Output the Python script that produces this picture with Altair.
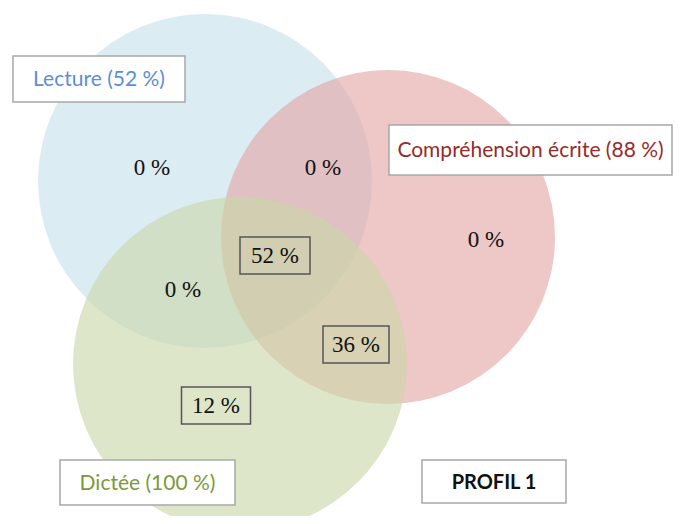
import altair as alt
import pandas as pd

# Venn sets
set_names = ["Lecture", "Compréhension écrite", "Dictée"]
set_pct = [52, 88, 100]
set_colors = ["#c5e1eb", "#e4a5a5", "#cad7a8"]
# circle centres (in page pixel coordinates of the layout)
circle_cx = [205, 388, 240]
circle_cy = [181, 237, 364]
circle_r = 167

# region values
region_labels = ["0 %", "0 %", "0 %", "52 %", "0 %", "36 %", "12 %"]
region_boxed = [False, False, False, True, False, True, True]
region_x = [152, 323, 486, 275, 183, 356, 216]
region_y = [168, 168, 240, 256, 290, 345, 406]

# set label boxes
label_texts = [f"{n} ({p} %)" for n, p in zip(set_names, set_pct)] + ["PROFIL 1"]
label_colors = ["#5b8fd8", "#962b2b", "#7b9a3a", "#111111"]
label_weights = ["normal", "normal", "normal", "bold"]
label_x1 = [13, 389, 60, 422]
label_x2 = [185, 672, 235, 566]
label_y1 = [56, 125, 460, 460]
label_y2 = [102, 175, 505, 503]

W, H = 665, 508
xs = alt.Scale(domain=[8, 8 + W], nice=False, zero=False)
ys = alt.Scale(domain=[8, 8 + H], nice=False, zero=False, reverse=True)

circles = pd.DataFrame({"name": set_names, "cx": circle_cx, "cy": circle_cy, "color": set_colors})
circle_layer = alt.Chart(circles).mark_point(
    shape="circle", filled=True, opacity=0.62, strokeWidth=0,
    size=(2 * circle_r) ** 2
).encode(
    x=alt.X("cx:Q", scale=xs, axis=None),
    y=alt.Y("cy:Q", scale=ys, axis=None),
    color=alt.Color("color:N", scale=None),
    order=alt.Order("order:Q"),
).transform_calculate(order="indexof(['Lecture','Compréhension écrite','Dictée'], datum.name)")

regions = pd.DataFrame({"label": region_labels, "boxed": region_boxed, "x": region_x, "y": region_y})
boxed = regions[regions["boxed"]].copy()
boxed["w"] = [70, 66, 69]
boxed["x1"] = boxed["x"] - boxed["w"] / 2
boxed["x2"] = boxed["x"] + boxed["w"] / 2
boxed["y1"] = boxed["y"] - 19
boxed["y2"] = boxed["y"] + 18

region_boxes = alt.Chart(boxed).mark_rect(
    fill=None, fillOpacity=0, stroke="#555555", strokeWidth=1.5
).encode(
    x=alt.X("x1:Q", scale=xs, axis=None), x2="x2:Q",
    y=alt.Y("y1:Q", scale=ys, axis=None), y2="y2:Q",
)

region_text = alt.Chart(regions).mark_text(
    font="Liberation Serif", fontSize=23, color="#111111", baseline="middle", align="center"
).encode(
    x=alt.X("x:Q", scale=xs, axis=None),
    y=alt.Y("y:Q", scale=ys, axis=None),
    text="label:N",
)

labels = pd.DataFrame({
    "text": label_texts, "color": label_colors, "weight": label_weights,
    "x1": label_x1, "x2": label_x2, "y1": label_y1, "y2": label_y2,
})
labels["xc"] = (labels["x1"] + labels["x2"]) / 2
labels["yc"] = (labels["y1"] + labels["y2"]) / 2 + 1

label_boxes = alt.Chart(labels).mark_rect(
    fill="white", stroke="#a8a8a8", strokeWidth=1.5
).encode(
    x=alt.X("x1:Q", scale=xs, axis=None), x2="x2:Q",
    y=alt.Y("y1:Q", scale=ys, axis=None), y2="y2:Q",
)

label_text_normal = alt.Chart(labels[labels["weight"] == "normal"]).mark_text(
    font="Lato", fontSize=21, baseline="middle", align="center"
).encode(
    x=alt.X("xc:Q", scale=xs, axis=None),
    y=alt.Y("yc:Q", scale=ys, axis=None),
    text="text:N",
    color=alt.Color("color:N", scale=None),
)
label_text_bold = alt.Chart(labels[labels["weight"] == "bold"]).mark_text(
    font="Lato", fontSize=20, fontWeight="bold", baseline="middle", align="center"
).encode(
    x=alt.X("xc:Q", scale=xs, axis=None),
    y=alt.Y("yc:Q", scale=ys, axis=None),
    text="text:N",
    color=alt.Color("color:N", scale=None),
)

chart = alt.layer(
    circle_layer, region_boxes, region_text, label_boxes, label_text_normal, label_text_bold
).properties(
    width=W, height=H, autosize=alt.AutoSizeParams(type="none"), padding=0,
    background="white"
).configure_view(stroke=None)

chart.save("out.html", embed_options={"renderer": "svg", "actions": False})
